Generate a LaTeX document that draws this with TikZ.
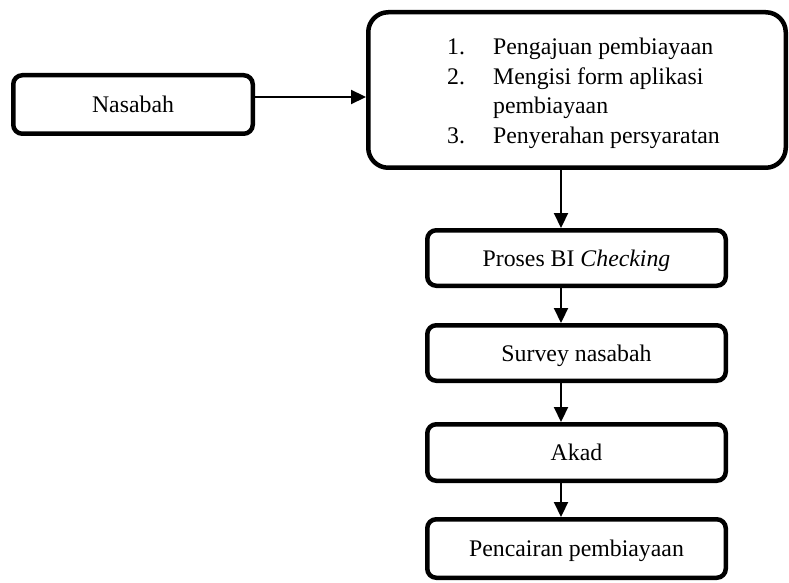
\documentclass[tikz,border=0pt]{standalone}
\usepackage{fontspec}
\setmainfont{Liberation Serif}
\usetikzlibrary{arrows.meta}
\begin{document}
\begin{tikzpicture}[x=1pt,y=1pt,
  box/.style={draw=black,line width=4.5pt,rounded corners=9pt,fill=white,
    inner sep=0pt,outer sep=2.25pt,text height=16.4pt,text depth=0pt,
    font=\fontsize{23.8}{29.7}\selectfont},
  smallbox/.style={box,minimum width=298.5pt},
  arr/.style={line width=2.2pt,-{Triangle[length=15pt,width=14pt]}}]
\useasboundingbox (0,0) rectangle (789,582);
\node[box,minimum width=239.5pt,minimum height=58.5pt] (nas) at (133,477.5) {Nasabah};
\node[box,rounded corners=20pt,minimum width=417.5pt,minimum height=155.5pt,text height=,text depth=] (big) at (577,492) {};
\node[font=\fontsize{23.8}{29.7}\selectfont,inner sep=0pt,anchor=center] (list) at ([xshift=6.5pt,yshift=-3pt]big.center)
  {\begin{tabular}{@{}p{46pt}@{}l@{}}
   1. & Pengajuan pembiayaan\\
   2. & Mengisi form aplikasi\\
      & pembiayaan\\
   3. & Penyerahan persyaratan
   \end{tabular}};
\node[smallbox,minimum height=55.5pt] (bi) at (576.5,324) {Proses BI \textit{Checking}};
\node[smallbox,minimum height=55.5pt] (sv) at (576.5,229) {Survey nasabah};
\node[smallbox,minimum height=56.5pt] (ak) at (576.5,129.5) {Akad};
\node[smallbox,minimum height=58.5pt] (pc) at (576.5,33.5) {Pencairan pembiayaan};
\coordinate (h) at (0,485);
\coordinate (v) at (561,0);
\draw[arr] (nas.east |- h) -- (big.west |- h);
\draw[arr] (big.south -| v) -- (bi.north -| v);
\draw[arr] (bi.south -| v) -- (sv.north -| v);
\draw[arr] (sv.south -| v) -- (ak.north -| v);
\draw[arr] (ak.south -| v) -- (pc.north -| v);
\end{tikzpicture}
\end{document}
